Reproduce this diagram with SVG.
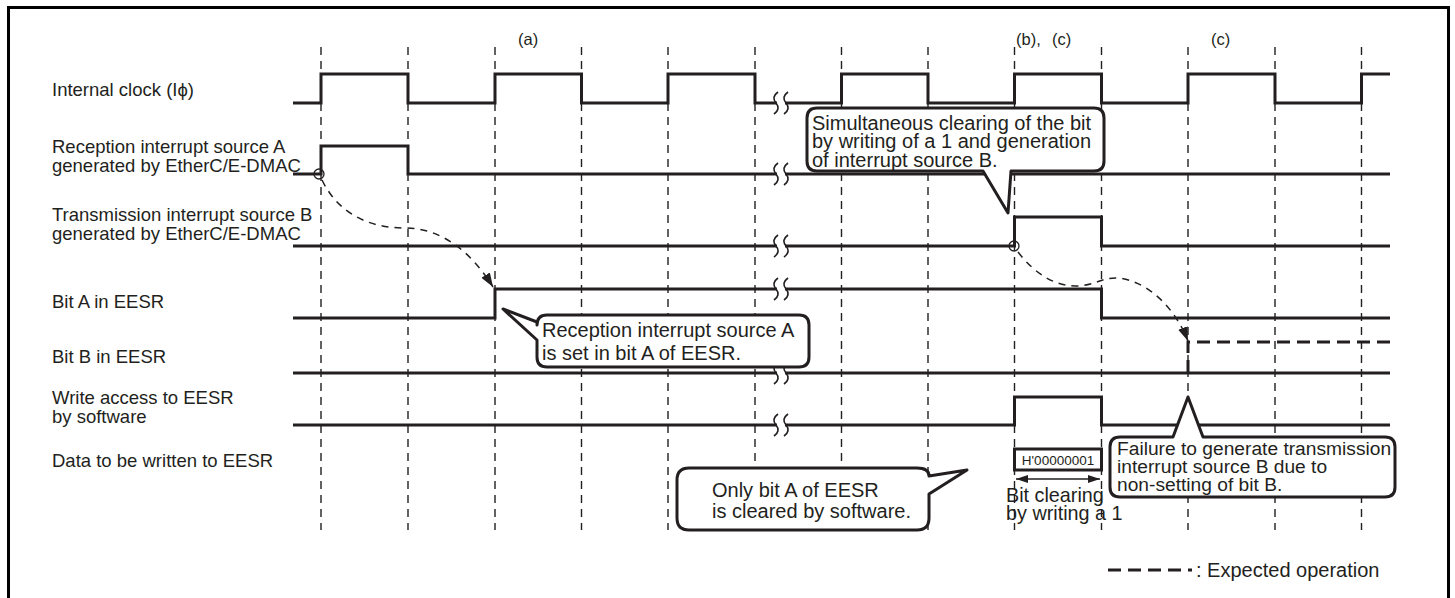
<svg xmlns="http://www.w3.org/2000/svg" width="1455" height="598" viewBox="0 0 1455 598">
<style>
.t{font-family:"Liberation Sans",Arial,sans-serif;fill:#231f20}
.lbl{font-size:18.5px}
.co{font-size:20px}
.cf{font-size:19.2px}
.grid{stroke:#231f20;stroke-width:1.4;stroke-dasharray:8 6;fill:none}
.sig{stroke:#231f20;stroke-width:3;fill:none}
.brk{stroke:#231f20;stroke-width:1.6;fill:none}
.call{stroke:#231f20;stroke-width:3;fill:#fff;stroke-linejoin:round}
.curve{stroke:#231f20;stroke-width:1.5;stroke-dasharray:7 6;fill:none}
.thickdash{stroke:#231f20;stroke-width:3;stroke-dasharray:13 7;fill:none}
</style>
<defs>
<marker id="ah" markerUnits="userSpaceOnUse" markerWidth="16" markerHeight="12" refX="14" refY="5" orient="auto"><path d="M0,0 L14,5 L0,10 Z" fill="#231f20"/></marker>
<marker id="dah" markerUnits="userSpaceOnUse" markerWidth="14" markerHeight="10" refX="12" refY="4" orient="auto-start-reverse"><path d="M0,0 L12,4 L0,8 Z" fill="#231f20"/></marker>
</defs>
<rect x="8.5" y="7.5" width="1440" height="620" fill="none" stroke="#000" stroke-width="3"/>
<g id="grid">
<path class="grid" d="M321,47V530M408,47V530M495,47V530M581.5,47V530M668,47V530M755,47V530M841.5,47V530M928,47V530M1014.5,47V530M1101.5,47V530M1188,47V530M1275,47V530M1361.5,47V530"/>
</g>
<g id="signals">
<g id="clk"><path class="sig" d="M293,103H321V74H408V103H495V74H581.5V103H668V74H755V103H777M785,103H841.5V74H928V103H1014.5V74H1101.5V103H1188V74H1275V103H1361.5V74H1390"/></g>
<g id="srcA"><path class="sig" d="M293,174H321V146H408V174H777M785,174H1390"/></g>
<g id="srcB"><path class="sig" d="M293,246H777M785,246H1014.5V217H1101.5V246H1390"/></g>
<g id="bitA"><path class="sig" d="M293,318H495V289H777M785,289H1101.5V318H1390"/></g>
<g id="bitB"><path class="sig" d="M293,373H777M785,373H1390"/><path class="thickdash" d="M1188,373V342H1390"/></g>
<g id="wr"><path class="sig" d="M293,425H777M785,425H1014.5V397H1101.5V425H1390"/></g>
</g>
<g id="breaks">
<path class="brk" d="M778,92Q771,97 776,103Q781,109 774,114M788,92Q781,97 786,103Q791,109 784,114"/>
<path class="brk" d="M778,163Q771,168 776,174Q781,180 774,185M788,163Q781,168 786,174Q791,180 784,185"/>
<path class="brk" d="M778,235Q771,240 776,246Q781,252 774,257M788,235Q781,240 786,246Q791,252 784,257"/>
<path class="brk" d="M778,278Q771,283 776,289Q781,295 774,300M788,278Q781,283 786,289Q791,295 784,300"/>
<path class="brk" d="M778,362Q771,367 776,373Q781,379 774,384M788,362Q781,367 786,373Q791,379 784,384"/>
<path class="brk" d="M778,414Q771,419 776,425Q781,431 774,436M788,414Q781,419 786,425Q791,431 784,436"/>
</g>
<g id="connectors">
<circle cx="319" cy="174" r="5" fill="none" stroke="#231f20" stroke-width="1.3"/>
<path class="curve" marker-end="url(#ah)" d="M322,180C338,213 368,228 405,228C440,228 470,250 493,287"/>
<circle cx="1014" cy="246" r="5" fill="none" stroke="#231f20" stroke-width="1.3"/>
<path class="curve" marker-end="url(#ah)" d="M1018,252C1035,274 1055,286 1075,286C1095,286 1102,277 1118,278C1148,281 1175,308 1188,341"/>
<path stroke="#231f20" stroke-width="1.5" marker-start="url(#dah)" marker-end="url(#dah)" d="M1016,479H1100"/>
</g>
<g id="callout-bitA">
<path class="call" d="M547,315H799Q809,315 809,325V357Q809,367 799,367H547Q537,367 537,357V340L503,309L537,322V325Q537,315 547,315Z"/>
<text class="t co" x="542" y="337">Reception interrupt source A</text>
<text class="t co" x="542" y="360">is set in bit A of EESR.</text>
</g>
<g id="callout-simul">
<path class="call" d="M817,108H1094Q1104,108 1104,118V161Q1104,171 1094,171H1011L1008,213L983,171H817Q807,171 807,161V118Q807,108 817,108Z"/>
<text class="t co" x="812" y="129.5">Simultaneous clearing of the bit</text>
<text class="t co" x="812" y="148">by writing of a 1 and generation</text>
<text class="t co" x="812" y="166.5">of interrupt source B.</text>
</g>
<g id="callout-only">
<path class="call" d="M689,468H917Q929,468 929,476L967,470L929,494V518Q929,530 917,530H689Q677,530 677,518V480Q677,468 689,468Z"/>
<text class="t co" x="712" y="497">Only bit A of EESR</text>
<text class="t co" x="712" y="518">is cleared by software.</text>
</g>
<g id="callout-fail">
<path class="call" d="M1120,437H1173L1188,397L1203,437H1385Q1395,437 1395,447V487Q1395,497 1385,497H1120Q1110,497 1110,487V447Q1110,437 1120,437Z"/>
<text class="t cf" x="1117" y="455">Failure to generate transmission</text>
<text class="t cf" x="1117" y="473">interrupt source B due to</text>
<text class="t cf" x="1117" y="491">non-setting of bit B.</text>
</g>
<g id="data-box">
<rect x="1014.5" y="449" width="87" height="21" fill="#fff" stroke="#231f20" stroke-width="3"/>
<text class="t" x="1058" y="464.5" font-size="13.5" text-anchor="middle">H'00000001</text>
</g>
<g id="labels">
<text class="t" x="518" y="45" font-size="16.5">(a)</text>
<text class="t" x="1016" y="45" font-size="16.5">(b),</text>
<text class="t" x="1052" y="45" font-size="16.5">(c)</text>
<text class="t" x="1211" y="45" font-size="16.5">(c)</text>
<text class="t lbl" x="52" y="96">Internal clock (Iϕ)</text>
<text class="t lbl" x="52" y="153">Reception interrupt source A</text>
<text class="t lbl" x="52" y="172">generated by EtherC/E-DMAC</text>
<text class="t lbl" x="52" y="221">Transmission interrupt source B</text>
<text class="t lbl" x="52" y="240">generated by EtherC/E-DMAC</text>
<text class="t lbl" x="52" y="308">Bit A in EESR</text>
<text class="t lbl" x="52" y="363">Bit B in EESR</text>
<text class="t lbl" x="52" y="404">Write access to EESR</text>
<text class="t lbl" x="52" y="423">by software</text>
<text class="t lbl" x="52" y="467">Data to be written to EESR</text>
<text class="t" x="1006" y="502" font-size="19.8">Bit clearing</text>
<text class="t" x="1006" y="520" font-size="19.8">by writing a 1</text>
</g>
<g id="legend">
<path class="thickdash" d="M1108,570H1192"/>
<text class="t co" x="1196" y="577">: Expected operation</text>
</g>
</svg>
